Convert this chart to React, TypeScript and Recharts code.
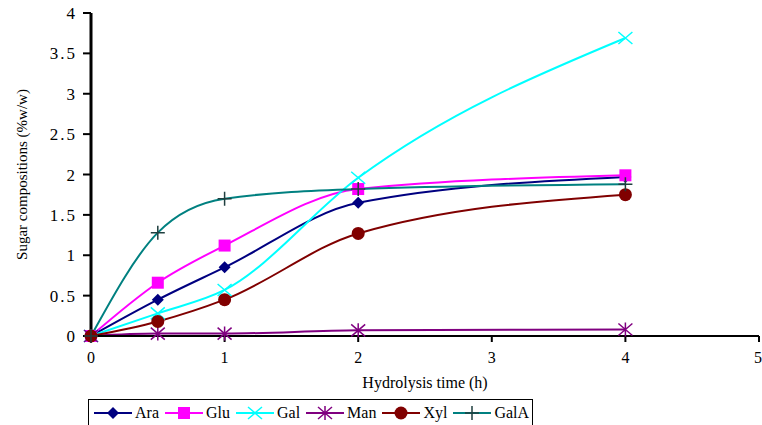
import React from 'react';
import { LineChart, Line, XAxis, YAxis } from 'recharts';

const times = [0, 0.5, 1, 2, 4];
const ara = [0, 0.45, 0.85, 1.65, 1.97];
const glu = [0, 0.66, 1.12, 1.82, 1.99];
const gal = [0, 0.28, 0.57, 1.96, 3.69];
const man = [0, 0.03, 0.03, 0.07, 0.08];
const xyl = [0, 0.18, 0.45, 1.27, 1.75];
const galA = [0, 1.28, 1.7, 1.82, 1.88];
const xTicks = [0, 1, 2, 3, 4, 5];
const yTicks = [0, 0.5, 1, 1.5, 2, 2.5, 3, 3.5, 4];

const data = times.map((t, i) => ({
  t,
  Ara: ara[i],
  Glu: glu[i],
  Gal: gal[i],
  Man: man[i],
  Xyl: xyl[i],
  GalA: galA[i],
}));

type Marker = 'diamond' | 'square' | 'x' | 'star' | 'circle' | 'plus';

const series: { key: string; color: string; marker: Marker; markerColor: string }[] = [
  { key: 'Ara', color: '#000080', marker: 'diamond', markerColor: '#000080' },
  { key: 'Glu', color: '#FF00FF', marker: 'square', markerColor: '#FF00FF' },
  { key: 'Gal', color: '#00FFFF', marker: 'x', markerColor: '#00FFFF' },
  { key: 'Man', color: '#800080', marker: 'star', markerColor: '#800080' },
  { key: 'Xyl', color: '#800000', marker: 'circle', markerColor: '#800000' },
  { key: 'GalA', color: '#008080', marker: 'plus', markerColor: '#1f3f3f' },
];

function markerShape(m: Marker, cx: number, cy: number, c: string) {
  switch (m) {
    case 'diamond':
      return <path d={`M${cx},${cy - 6}L${cx + 6},${cy}L${cx},${cy + 6}L${cx - 6},${cy}Z`} fill={c} />;
    case 'square':
      return <rect x={cx - 6} y={cy - 6} width={12} height={12} fill={c} />;
    case 'circle':
      return <circle cx={cx} cy={cy} r={6.5} fill={c} />;
    case 'x':
      return <path d={`M${cx - 7},${cy - 6}L${cx + 7},${cy + 6}M${cx - 7},${cy + 6}L${cx + 7},${cy - 6}`} stroke={c} strokeWidth={1.5} />;
    case 'star':
      return (
        <path
          d={`M${cx - 7},${cy - 6}L${cx + 7},${cy + 6}M${cx - 7},${cy + 6}L${cx + 7},${cy - 6}M${cx},${cy - 7}L${cx},${cy + 7}`}
          stroke={c}
          strokeWidth={1.5}
        />
      );
    case 'plus':
      return <path d={`M${cx - 7},${cy}L${cx + 7},${cy}M${cx},${cy - 7}L${cx},${cy + 7}`} stroke={c} strokeWidth={1.5} />;
  }
}

const font = '"Liberation Serif", "DejaVu Serif", serif';

const Legend = () => (
  <div
    style={{
      position: 'absolute',
      left: 88,
      top: 399,
      width: 445,
      height: 30,
      border: '1px solid #000',
      boxSizing: 'border-box',
      display: 'flex',
      alignItems: 'flex-start',
      paddingTop: 4,
      paddingLeft: 5,
      fontFamily: font,
      fontSize: 16,
    }}
  >
    {series.map((s) => (
      <div key={s.key} style={{ display: 'flex', alignItems: 'center', marginRight: 6 }}>
        <svg width={38} height={16}>
          <line x1={0} y1={8} x2={38} y2={8} stroke={s.color} strokeWidth={2} />
          {markerShape(s.marker, 19, 8, s.markerColor)}
        </svg>
        <span style={{ marginLeft: 3 }}>{s.key}</span>
      </div>
    ))}
  </div>
);

export default function App() {
  return (
    <div style={{ position: 'absolute', left: 0, top: 0, width: 762, height: 425, background: '#fff' }}>
      <LineChart width={762} height={425} data={data} margin={{ top: 13, right: 3, bottom: 37, left: 0 }}>
        <XAxis
          dataKey="t"
          type="number"
          domain={[0, 5]}
          ticks={xTicks}
          tickSize={6}
          tickMargin={10}
          axisLine={{ stroke: '#000', strokeWidth: 2 }}
          tickLine={{ stroke: '#000', strokeWidth: 2 }}
          tick={{ fill: '#000', fontSize: 16, fontFamily: font }}
          height={52}
          label={{ value: 'Hydrolysis time (h)', position: 'insideBottom', offset: 0, fill: '#000', fontSize: 16, fontFamily: font }}
        />
        <YAxis
          type="number"
          domain={[0, 4]}
          ticks={yTicks}
          width={91}
          tickSize={8}
          tickMargin={6}
          axisLine={{ stroke: '#000', strokeWidth: 3 }}
          tickLine={{ stroke: '#000', strokeWidth: 2 }}
          tick={{ fill: '#000', fontSize: 17, fontFamily: font, letterSpacing: 2 }}
          label={{
            value: 'Sugar compositions (%w/w)',
            angle: -90,
            position: 'insideLeft',
            offset: 22,
            fill: '#000',
            fontSize: 15,
            fontFamily: font,
            style: { textAnchor: 'middle' },
          }}
        />
        {series.map((s) => (
          <Line
            key={s.key}
            type="monotone"
            dataKey={s.key}
            stroke={s.color}
            strokeWidth={2}
            isAnimationActive={false}
            dot={(p: any) => <g key={`${s.key}-${p.index}`}>{markerShape(s.marker, p.cx, p.cy, s.markerColor)}</g>}
            activeDot={false}
          />
        ))}
      </LineChart>
      <Legend />
    </div>
  );
}
